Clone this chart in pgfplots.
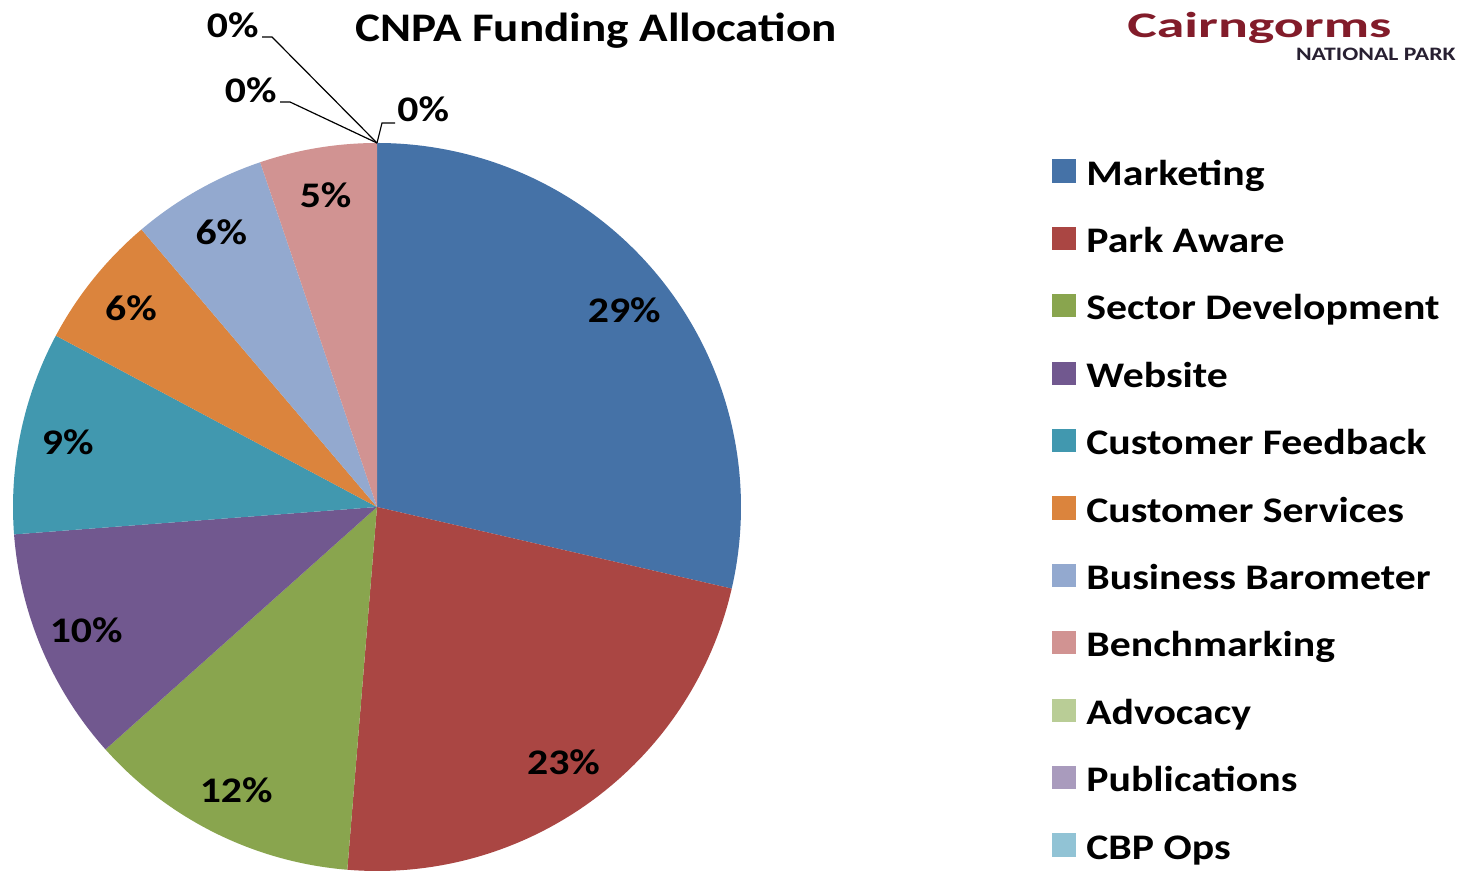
\documentclass[border=0pt]{standalone}
\usepackage{fontspec}
\setmainfont{Carlito}[FakeStretch=1.16]
\newfontfamily\logofont{Carlito}[FakeStretch=1.55]
\newfontfamily\logosmall{Carlito}[FakeStretch=1.25]
\usepackage{pgfplots}
\usepackage{pgfplotstable}
\pgfplotsset{compat=1.18}
\definecolor{c1}{HTML}{4572A7}
\definecolor{c2}{HTML}{AA4643}
\definecolor{c3}{HTML}{89A54E}
\definecolor{c4}{HTML}{71588F}
\definecolor{c5}{HTML}{4198AF}
\definecolor{c6}{HTML}{DB843D}
\definecolor{c7}{HTML}{93A9CF}
\definecolor{c8}{HTML}{D19392}
\definecolor{c9}{HTML}{B9CD96}
\definecolor{c10}{HTML}{A99BBD}
\definecolor{c11}{HTML}{91C3D5}
\definecolor{logored}{RGB}{130,28,42}
\definecolor{logodark}{RGB}{40,32,50}
\tikzset{pielabel/.style={font=\bfseries\fontsize{18pt}{20pt}\selectfont, inner sep=0pt}}
\pgfplotstableread{
value color
28.6 c1
22.7 c2
12.1 c3
10.4 c4
9.0 c5
6.0 c6
6.0 c7
5.2 c8
0 c9
0 c10
0 c11
}\piedata
\begin{document}
\begin{tikzpicture}
\begin{axis}[
  x=0.5pt, y=0.5pt,
  xmin=0, xmax=1464, ymin=0, ymax=871,
  hide axis, clip=false,
  legend image code/.code={\fill[#1, draw=none] (0pt,-4.5pt) rectangle (12pt,7.1pt);},
  legend cell align=left,
  legend style={draw=none, fill=none, at={(axis cs:1052,712)}, anchor=north west,
    inner sep=0pt, row sep=20.8pt,
    font=\bfseries\fontsize{18pt}{20pt}\selectfont,
    nodes={inner sep=0pt, text height=11.6pt, text depth=0pt},
    /tikz/every odd column/.append style={column sep=5pt}},
]
\path (axis cs:0,0) rectangle (axis cs:1464,871);
\pgfmathsetmacro{\angA}{90}
\pgfplotsforeachungrouped \i in {0,...,10}{%
  \pgfplotstablegetelem{\i}{value}\of\piedata \let\val\pgfplotsretval
  \pgfplotstablegetelem{\i}{color}\of\piedata \let\col\pgfplotsretval
  \pgfmathsetmacro{\angB}{\angA - 3.6*\val}%
  \pgfmathsetmacro{\angM}{(\angA+\angB)/2}%
  \ifdim\val pt>0.05pt
    \edef\cmd{\noexpand\fill[\col] (axis cs:377,364) -- ++(\angA:182pt) arc[start angle=\angA, end angle=\angB, radius=182pt] -- cycle;}%
    \cmd
    \pgfmathparse{int(round(\val))}\edef\labtxt{\pgfmathresult}%
    \edef\cmd{\noexpand\path (axis cs:377,364) ++(\angM:158pt) node[pielabel] {\labtxt\noexpand\%};}%
    \cmd
  \fi
  \global\let\angA\angB
}
% zero-value labels with leader lines
\draw[black, line width=0.6pt] (axis cs:377,728) -- (axis cs:272,834) -- (axis cs:262,834);
\draw[black, line width=0.6pt] (axis cs:377,728) -- (axis cs:290,769) -- (axis cs:280,769);
\draw[black, line width=0.6pt] (axis cs:377,728) -- (axis cs:382,748) -- (axis cs:395,748);
\node[pielabel, anchor=east] at (axis cs:259,846) {0\%};
\node[pielabel, anchor=east] at (axis cs:277,781) {0\%};
\node[pielabel, anchor=west] at (axis cs:397,762) {0\%};
% title
\node[font=\bfseries\fontsize{20.3pt}{24pt}\selectfont, anchor=base] at (axis cs:596,829) {CNPA Funding Allocation};
% logo
\node[font=\logofont\bfseries\fontsize{18pt}{20pt}\selectfont, text=logored, anchor=base west, inner sep=0pt] at (axis cs:1127,833) {Cairngorms};
\node[font=\logosmall\bfseries\fontsize{9.5pt}{10pt}\selectfont, text=logodark, anchor=base east, inner sep=0pt] at (axis cs:1456,810) {NATIONAL PARK};
\addlegendimage{fill=c1}
\addlegendimage{fill=c2}
\addlegendimage{fill=c3}
\addlegendimage{fill=c4}
\addlegendimage{fill=c5}
\addlegendimage{fill=c6}
\addlegendimage{fill=c7}
\addlegendimage{fill=c8}
\addlegendimage{fill=c9}
\addlegendimage{fill=c10}
\addlegendimage{fill=c11}
\legend{Marketing, Park Aware, Sector Development, Website, Customer Feedback, Customer Services, Business Barometer, Benchmarking, Advocacy, Publications, CBP Ops}
\end{axis}
\end{tikzpicture}
\end{document}
